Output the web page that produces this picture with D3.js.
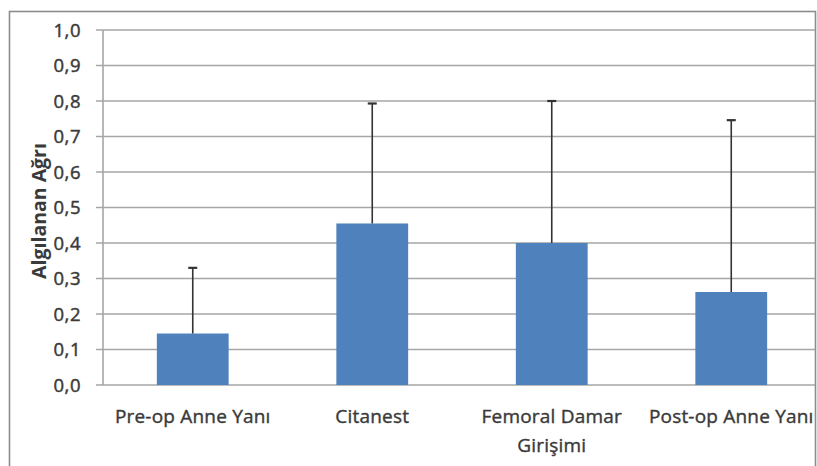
<!DOCTYPE html>
<html><head><meta charset="utf-8">
<script src="https://cdn.jsdelivr.net/npm/d3@7"></script>
<style>body{margin:0;background:#fff}svg{display:block}</style>
</head><body><svg id="c" width="817" height="466"></svg>
<script>
const categories = [["Pre-op Anne Yanı"], ["Citanest"], ["Femoral Damar", "Girişimi"], ["Post-op Anne Yanı"]];
const means = [0.145, 0.455, 0.40, 0.262];
const errorTops = [0.33, 0.793, 0.80, 0.746];
const yTicks = [0, 0.1, 0.2, 0.3, 0.4, 0.5, 0.6, 0.7, 0.8, 0.9, 1.0];
const yTitle = "Algılanan Ağrı";

(function () {
const svg = d3.select("#c");
const pLeft = 103, pRight = 821, pTop = 30, pBottom = 385;
const font = "'Open Sans', 'Noto Sans', sans-serif";

svg.append("rect").attr("x", 9.5).attr("y", 11.5).attr("width", 806).attr("height", 470)
  .attr("fill", "none").attr("stroke", "#8c8c8c").attr("stroke-width", 1.6);

const y = d3.scaleLinear().domain([0, 1]).range([pBottom, pTop]);
const x = d3.scaleBand().domain(d3.range(categories.length)).range([pLeft, pRight]).paddingInner(0.6).paddingOuter(0.3);

const g = svg.append("g");
g.selectAll("line.grid").data(yTicks).join("line")
  .attr("x1", pLeft - 7).attr("x2", 815).attr("y1", d => y(d)).attr("y2", d => y(d))
  .attr("stroke", "#a6a6a6").attr("stroke-width", 1.6);
g.append("line").attr("x1", pLeft).attr("x2", pLeft).attr("y1", pTop).attr("y2", pBottom)
  .attr("stroke", "#a6a6a6").attr("stroke-width", 1.6);

g.selectAll("text.yt").data(yTicks).join("text")
  .attr("x", 81).attr("y", d => y(d)).attr("dy", "0.36em").attr("text-anchor", "end")
  .attr("font-family", font).attr("font-size", 18.5)
  .attr("letter-spacing", 0.5).attr("fill", "#3a3a3a")
  .attr("stroke", "#3a3a3a").attr("stroke-width", 0.45)
  .text(d => d3.format(".1f")(d).replace(".", ","));

g.selectAll("rect.bar").data(means).join("rect")
  .attr("x", (d, i) => x(i)).attr("width", x.bandwidth())
  .attr("y", d => y(d)).attr("height", d => pBottom - y(d)).attr("fill", "#4f81bd");

const eb = g.selectAll("g.eb").data(means).join("g");
eb.append("line").attr("x1", (d, i) => x(i) + x.bandwidth() / 2).attr("x2", (d, i) => x(i) + x.bandwidth() / 2)
  .attr("y1", d => y(d)).attr("y2", (d, i) => y(errorTops[i])).attr("stroke", "#333").attr("stroke-width", 1.6);
eb.append("line").attr("x1", (d, i) => x(i) + x.bandwidth() / 2 - 4.5).attr("x2", (d, i) => x(i) + x.bandwidth() / 2 + 4.5)
  .attr("y1", (d, i) => y(errorTops[i])).attr("y2", (d, i) => y(errorTops[i])).attr("stroke", "#333").attr("stroke-width", 2.2);

const xl = g.selectAll("text.xl").data(categories).join("text")
  .attr("x", (d, i) => x(i) + x.bandwidth() / 2).attr("y", 423).attr("text-anchor", "middle")
  .attr("font-family", font).attr("font-size", 19)
  .attr("letter-spacing", 0.2).attr("fill", "#3a3a3a")
  .attr("stroke", "#3a3a3a").attr("stroke-width", 0.4);
xl.selectAll("tspan").data(d => d).join("tspan")
  .attr("x", function() { return this.parentNode.getAttribute("x"); })
  .attr("dy", (d, i) => i === 0 ? 0 : 29).text(d => d);

svg.append("text").attr("transform", "translate(46,211) rotate(-90)").attr("text-anchor", "middle")
  .attr("font-family", font).attr("font-size", 19.5).attr("font-weight", "bold").attr("fill", "#3a3a3a")
  .text(yTitle);
})();
</script></body></html>
